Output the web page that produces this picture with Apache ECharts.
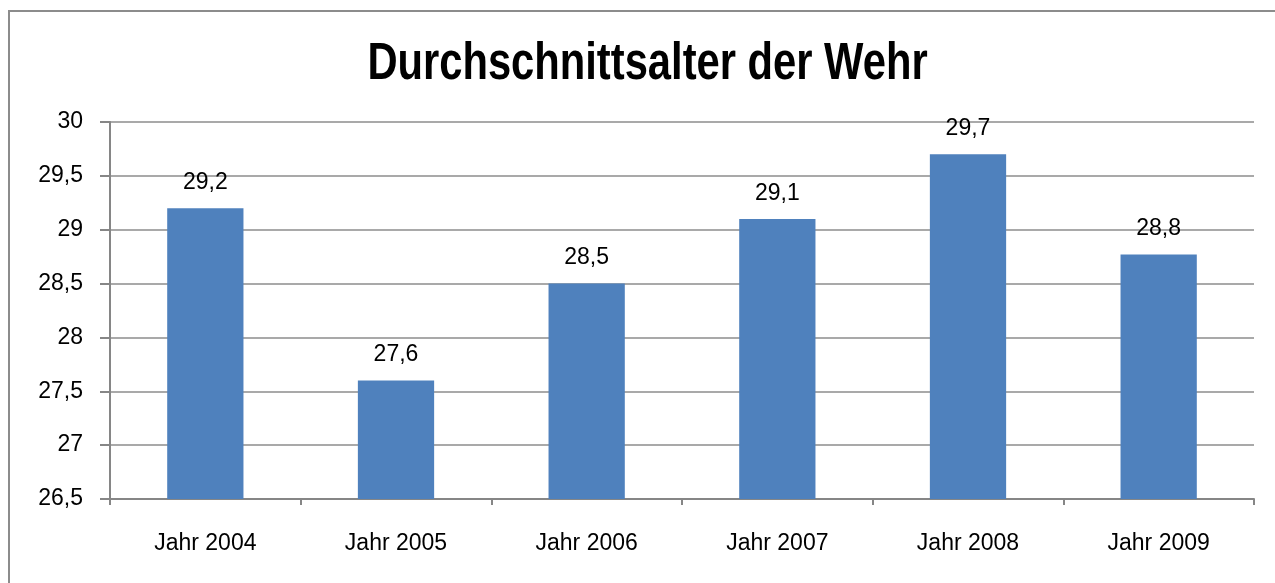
<!DOCTYPE html>
<html>
<head>
<meta charset="utf-8">
<script src="https://cdn.jsdelivr.net/npm/echarts@6/dist/echarts.min.js"></script>
<style>
  html, body { margin: 0; padding: 0; background: #fff; }
  #chart { width: 1275px; height: 583px; }
  #frame {
    position: absolute; left: 8px; top: 10px; width: 1300px; height: 600px;
    border-left: 2px solid #8c8c8c; border-top: 2px solid #8c8c8c;
    pointer-events: none;
  }
</style>
</head>
<body>
<div id="chart"></div>
<div id="frame"></div>
<script>
var titleText = 'Durchschnittsalter der Wehr'
var years = ['Jahr 2004', 'Jahr 2005', 'Jahr 2006', 'Jahr 2007', 'Jahr 2008', 'Jahr 2009']
var ages = [29.2, 27.6, 28.5, 29.1, 29.7, 28.77]

var chart = echarts.init(document.getElementById('chart'), null, { renderer: 'canvas' })

var txt = { color: '#000', fontFamily: 'Liberation Sans, Arial, sans-serif', fontSize: 23 }

var option = {
  animation: false,
  // title drawn as graphic text so it can be squeezed like Arial Narrow
  graphic: [{
    type: 'text',
    x: 647.5,
    y: 64.5,
    scaleX: 0.818,
    style: {
      text: titleText,
      x: 0,
      y: 0,
      align: 'center',
      verticalAlign: 'middle',
      fill: '#000',
      font: 'bold 51px "Liberation Sans", Arial, sans-serif'
    }
  }],
  grid: { left: 110, right: 21, top: 122, bottom: 84 },
  xAxis: {
    type: 'category',
    data: years,
    axisLine: { lineStyle: { color: '#868686', width: 2 } },
    axisTick: { show: true, length: 6, lineStyle: { color: '#868686', width: 2 } },
    axisLabel: Object.assign({ margin: 33 }, txt)
  },
  yAxis: {
    type: 'value',
    min: 26.5,
    max: 30,
    interval: 0.5,
    axisLine: { show: true, lineStyle: { color: '#868686', width: 2 } },
    axisTick: { show: true, length: 10, lineStyle: { color: '#868686', width: 2 } },
    splitLine: { lineStyle: { color: '#8c8c8c', width: 1.5 } },
    axisLabel: Object.assign({
      margin: 27,
      formatter: function (v) { return String(v).replace('.', ',') }
    }, txt)
  },
  series: [{
    type: 'bar',
    data: ages,
    barWidth: '40%',
    itemStyle: { color: '#4f81bd' },
    label: Object.assign({
      show: true,
      position: 'top',
      distance: 14,
      formatter: function (p) { return p.value.toFixed(1).replace('.', ',') }
    }, txt)
  }]
}

chart.setOption(option)
</script>
</body>
</html>
